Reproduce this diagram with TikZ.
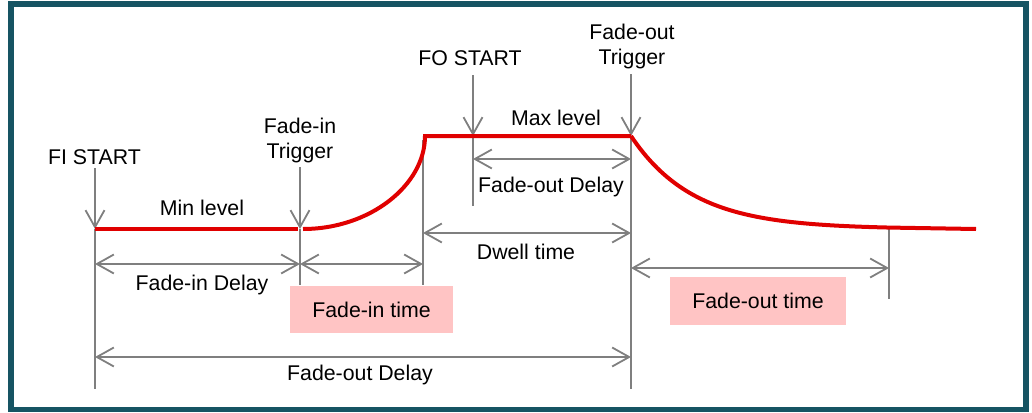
\documentclass[tikz,border=0pt]{standalone}
\usepackage{fontspec}
\setmainfont{Liberation Sans}
\usetikzlibrary{arrows.meta}
\definecolor{framecol}{RGB}{22,84,99}
\definecolor{sigcol}{RGB}{224,0,0}
\definecolor{dimcol}{RGB}{127,127,127}
\definecolor{pinkcol}{RGB}{255,196,196}
\tikzset{barb/.tip={Straight Barb[length=17pt,width=19pt]}}
\begin{document}
\begin{tikzpicture}[x=1pt,y=-1pt,
  lbl/.style={font=\fontsize{21.3}{25}\selectfont, inner sep=0pt, anchor=base, align=center},
  pinkbox/.style={font=\fontsize{21.3}{25}\selectfont, fill=pinkcol, inner sep=0pt},
  dimline/.style={draw=dimcol, line width=1.8pt},
  sigline/.style={draw=sigcol, line width=4pt}]
\useasboundingbox (0,0) rectangle (1032,412);
\draw[framecol, line width=5.5pt] (11,4) rectangle (1026,409.5);

% key points
\coordinate (fiTop) at (95,168);  \coordinate (fiLev) at (95,229);  \coordinate (fiBot) at (95,389);
\coordinate (tiTop) at (300,167); \coordinate (tiLev) at (300,229); \coordinate (tiBot) at (300,285);
\coordinate (riTop) at (423,140); \coordinate (riBot) at (423,285);
\coordinate (foTop) at (473,75);  \coordinate (foLev) at (473,136); \coordinate (foBot) at (473,206);
\coordinate (toTop) at (631,74);  \coordinate (toLev) at (631,136); \coordinate (toBot) at (631,389);
\coordinate (enLev) at (889,229); \coordinate (enBot) at (889,299);
\coordinate (yFOD1) at (0,159);
\coordinate (yDw) at (0,233);
\coordinate (yFID) at (0,264);
\coordinate (yFOT) at (0,268);
\coordinate (yFOD2) at (0,357);

% pink boxes
\node[pinkbox, minimum width=163pt, minimum height=47pt] (bFI) at (371.5,309.5) {Fade-in time};
\node[pinkbox, minimum width=176pt, minimum height=48pt] (bFO) at (758,301) {Fade-out time};

% vertical markers
\draw[dimline, -barb] (fiTop) -- (fiLev);
\draw[dimline] (fiLev) -- (fiBot);
\draw[dimline, -barb] (tiTop) -- (tiLev);
\draw[dimline] (tiLev) -- (tiBot);
\draw[dimline] (riTop) -- (riBot);
\draw[dimline, -barb] (foTop) -- (foLev);
\draw[dimline] (foLev) -- (foBot);
\draw[dimline, -barb] (toTop) -- (toLev);
\draw[dimline] (toLev) -- (toBot);
\draw[dimline] (enLev) -- (enBot);

% dimension arrows
\draw[dimline, barb-barb] (foLev |- yFOD1) -- (toLev |- yFOD1);
\draw[dimline, barb-barb] (riTop |- yDw) -- (toLev |- yDw);
\draw[dimline, barb-barb] (fiLev |- yFID) -- (tiLev |- yFID);
\draw[dimline, barb-barb] (tiLev |- yFID) -- (riTop |- yFID);
\draw[dimline, barb-barb] (toLev |- yFOT) -- (enLev |- yFOT);
\draw[dimline, barb-barb] (fiLev |- yFOD2) -- (toLev |- yFOD2);

% signal
\draw[sigline] (fiLev) -- (298,229);
\draw[sigline] (303,229) .. controls (370,229) and (425,185) .. (425,136) -- (toLev);
\draw[sigline] plot[domain=631:889, samples=80] (\x,{229-93*exp(-(\x-631)/62)}) -- (976,229);

% labels
\node[lbl] (lFI) at (94.5,164.5) {FI START};
\node[lbl] (lTI) at (300,158.3) {Fade-in\\Trigger};
\node[lbl] (lFO) at (470,65.7) {FO START};
\node[lbl] (lTO) at (632,64.2) {Fade-out\\Trigger};
\node[lbl] (lMax) at (556,125.4) {Max level};
\node[lbl] (lMin) at (202,215) {Min level};
\node[lbl] (lFOD1) at (551,192.7) {Fade-out Delay};
\node[lbl] (lDw) at (526,259.3) {Dwell time};
\node[lbl] (lFID) at (202,290) {Fade-in Delay};
\node[lbl] (lFOD2) at (360,380) {Fade-out Delay};
\end{tikzpicture}
\end{document}
